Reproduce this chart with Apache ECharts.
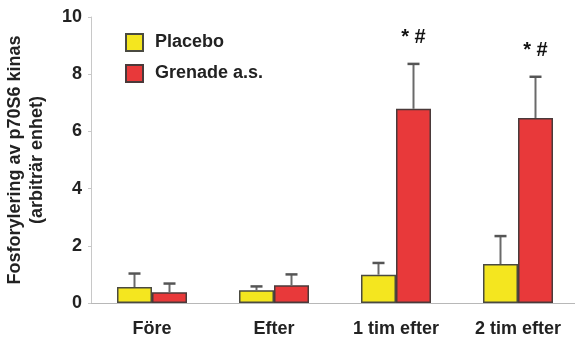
<!DOCTYPE html>
<html>
<head>
<meta charset="utf-8">
<script src="https://cdn.jsdelivr.net/npm/echarts@6/dist/echarts.min.js"></script>
<style>
  html, body { margin: 0; padding: 0; background: #ffffff; }
  #chart { width: 575px; height: 344px; }
</style>
</head>
<body>
<div id="chart"></div>
<script>
// Phosphorylation of p70S6 kinase, placebo vs. Grenade a.s.
const categories = ['Före', 'Efter', '1 tim efter', '2 tim efter'];
const placebo = [0.56, 0.45, 0.99, 1.36];
const placeboErr = [0.47, 0.13, 0.41, 0.98];
const grenade = [0.38, 0.62, 6.79, 6.47];
const grenadeErr = [0.30, 0.38, 1.57, 1.44];
const significance = ['', '', '* #', '* #'];
const yTicks = [0, 2, 4, 6, 8, 10];

const BAR_W = 35;
const FONT = 'Liberation Sans, Arial, sans-serif';

// error whisker (upward only) drawn from bar top, shifted to the bar's slot
function errorSeries(values, errs, side, marks) {
  return {
    type: 'custom',
    z: 5,
    silent: true,
    data: values.map((v, i) => [i, v, v + errs[i]]),
    renderItem: function (params, api) {
      const i = api.value(0);
      const base = api.coord([i, api.value(1)]);
      const top = api.coord([i, api.value(2)]);
      const x = base[0] + side * BAR_W / 2;
      const children = [
        { type: 'line', shape: { x1: x, y1: base[1], x2: x, y2: top[1] },
          style: { stroke: '#6a6a6a', lineWidth: 2 } },
        { type: 'line', shape: { x1: x - 6, y1: top[1], x2: x + 6, y2: top[1] },
          style: { stroke: '#555555', lineWidth: 2.5 } }
      ];
      if (marks && marks[i]) {
        children.push({
          type: 'text',
          style: {
            x: x, y: top[1] - 26, text: marks[i],
            fill: '#111', font: 'bold 20px ' + FONT,
            align: 'center', verticalAlign: 'middle'
          }
        });
      }
      return { type: 'group', children: children };
    }
  };
}

const chart = echarts.init(document.getElementById('chart'));
chart.setOption({
  backgroundColor: '#ffffff',
  animation: false,
  grid: { left: 91, top: 17, width: 488, bottom: 41, containLabel: false, outerBoundsMode: 'none' },
  legend: {
    orient: 'vertical',
    left: 125,
    top: 33,
    padding: 0,
    itemWidth: 17,
    itemHeight: 17,
    itemGap: 12,
    icon: 'rect',
    textStyle: { fontFamily: FONT, fontWeight: 'bold', fontSize: 18, color: '#222', padding: [0, 0, 0, 7] },
    data: ['Placebo', 'Grenade a.s.']
  },
  xAxis: {
    type: 'category',
    data: categories,
    axisLine: { lineStyle: { color: '#b8b8b8', width: 1 } },
    axisTick: { show: false },
    axisLabel: { fontFamily: FONT, fontWeight: 'bold', fontSize: 18, color: '#222', margin: 17 }
  },
  yAxis: {
    type: 'value',
    min: yTicks[0],
    max: yTicks[yTicks.length - 1],
    interval: 2,
    name: 'Fosforylering av p70S6 kinas\n(arbiträr enhet)',
    nameLocation: 'middle',
    nameGap: 43,
    nameRotate: 90,
    nameTextStyle: { fontFamily: FONT, fontWeight: 'bold', fontSize: 18, color: '#222', lineHeight: 22 },
    axisLine: { show: true, lineStyle: { color: '#c8c8c8', width: 1 } },
    axisTick: { show: true, length: 3, lineStyle: { color: '#c8c8c8' } },
    splitLine: { show: false },
    axisLabel: { fontFamily: FONT, fontWeight: 'bold', fontSize: 18, color: '#222', margin: 9 }
  },
  series: [
    {
      name: 'Placebo',
      type: 'bar',
      data: placebo,
      barWidth: BAR_W,
      barGap: '0%',
      itemStyle: { color: '#f4e61f', borderColor: '#4a4a40', borderWidth: 1.5 }
    },
    {
      name: 'Grenade a.s.',
      type: 'bar',
      data: grenade,
      barWidth: BAR_W,
      barGap: '0%',
      itemStyle: { color: '#e8393a', borderColor: '#4a3a3a', borderWidth: 1.5 }
    },
    errorSeries(placebo, placeboErr, -1, null),
    errorSeries(grenade, grenadeErr, 1, significance)
  ]
});
</script>
</body>
</html>
